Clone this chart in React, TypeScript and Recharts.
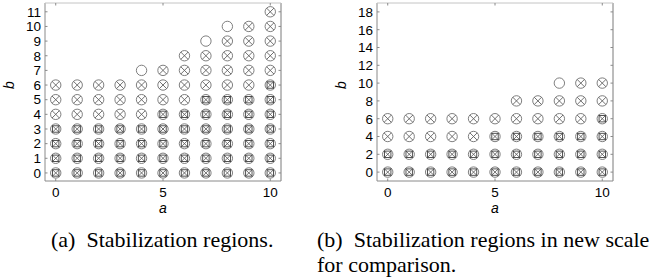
import {
  ReferenceLine,
  Scatter,
  ScatterChart,
  XAxis,
  YAxis,
} from "recharts";

// column a values shared by both panels
const aValues = [0, 1, 2, 3, 4, 5, 6, 7, 8, 9, 10];
const xTicks = [0, 5, 10];

// panel (a): highest b reached by each marker type in every column
const bLevelsA = [0, 1, 2, 3, 4, 5, 6, 7, 8, 9, 10, 11];
const circleTopA = [6, 6, 6, 6, 7, 7, 8, 9, 10, 10, 11];
const crossTopA = [6, 6, 6, 6, 6, 7, 8, 8, 9, 10, 11];
const squareTopA = [3, 3, 3, 3, 3, 4, 4, 5, 5, 5, 6];
const yTicksA = [0, 1, 2, 3, 4, 5, 6, 7, 8, 9, 10, 11];

// panel (b): same thing on the new scale
const bLevelsB = [0, 2, 4, 6, 8, 10];
const circleTopB = [6, 6, 6, 6, 6, 6, 8, 8, 10, 10, 10];
const crossTopB = [6, 6, 6, 6, 6, 6, 8, 8, 8, 10, 10];
const squareTopB = [2, 2, 2, 2, 2, 4, 4, 4, 4, 4, 6];
const yTicksB = [0, 2, 4, 6, 8, 10, 12, 14, 16, 18];

const PLOT_TOP = 3;
const PLOT_BOTTOM = 181;
const PLOT_LEFT = 45;
const PLOT_RIGHT = 281;
const TICK = 2.5;
const BOX = "#8a8a8a";
const SERIF =
  "Liberation Serif, Noto Serif, DejaVu Serif, Times New Roman, Times, serif";

type Pt = { a: number; b: number };

const toPoints = (tops: number[], levels: number[]): Pt[] =>
  aValues.flatMap((a, i) =>
    levels.filter((b) => b <= tops[i]).map((b) => ({ a, b }))
  );

const R = 5.2;

const CircleMark = (p: any) => (
  <circle cx={p.cx} cy={p.cy} r={R} fill="none" stroke="#707070" strokeWidth={0.9} />
);

const CrossMark = (p: any) => {
  const d = R * 0.72;
  return (
    <g stroke="#606060" strokeWidth={0.9}>
      <line x1={p.cx - d} y1={p.cy - d} x2={p.cx + d} y2={p.cy + d} />
      <line x1={p.cx - d} y1={p.cy + d} x2={p.cx + d} y2={p.cy - d} />
    </g>
  );
};

const SquareMark = (p: any) => {
  const s = 3.2;
  return (
    <rect
      x={p.cx - s}
      y={p.cy - s}
      width={2 * s}
      height={2 * s}
      fill="none"
      stroke="#404040"
      strokeWidth={0.9}
    />
  );
};

const XTick = ({ x, payload }: any) => (
  <g>
    <text x={x} y={PLOT_BOTTOM + 16} textAnchor="middle" fontSize={13.5} fill="#000">
      {payload.value}
    </text>
    <line x1={x} x2={x} y1={PLOT_BOTTOM} y2={PLOT_BOTTOM - TICK} stroke={BOX} />
    <line x1={x} x2={x} y1={PLOT_TOP} y2={PLOT_TOP + TICK} stroke={BOX} />
  </g>
);

const YTick = ({ y, payload }: any) => (
  <g>
    <text x={PLOT_LEFT - 4} y={y + 4.8} textAnchor="end" fontSize={13.5} fill="#000">
      {payload.value}
    </text>
    <line x1={PLOT_LEFT} x2={PLOT_LEFT + TICK} y1={y} y2={y} stroke={BOX} />
    <line x1={PLOT_RIGHT} x2={PLOT_RIGHT - TICK} y1={y} y2={y} stroke={BOX} />
  </g>
);

interface PanelProps {
  circles: Pt[];
  crosses: Pt[];
  squares: Pt[];
  yDomain: [number, number];
  yTicks: number[];
}

function Panel({ circles, crosses, squares, yDomain, yTicks }: PanelProps) {
  return (
    <ScatterChart
      width={300}
      height={220}
      margin={{ top: PLOT_TOP, right: 300 - PLOT_RIGHT, left: 0, bottom: 6 }}
    >
      <XAxis
        type="number"
        dataKey="a"
        domain={[-0.5, 10.5]}
        ticks={xTicks}
        interval={0}
        allowDataOverflow
        axisLine={false}
        tickLine={false}
        height={33}
        tick={<XTick />}
        label={{
          value: "a",
          position: "insideBottom",
          offset: 1,
          fontSize: 14,
          fontStyle: "italic",
          fill: "#000",
        }}
      />
      <YAxis
        type="number"
        dataKey="b"
        domain={yDomain}
        ticks={yTicks}
        interval={0}
        allowDataOverflow
        axisLine={false}
        tickLine={false}
        width={PLOT_LEFT}
        tick={<YTick />}
        label={{
          value: "b",
          angle: -90,
          position: "insideLeft",
          offset: 9,
          dy: -3,
          fontSize: 14,
          fontStyle: "italic",
          fill: "#000",
        }}
      />
      <ReferenceLine x={-0.5} stroke={BOX} ifOverflow="visible" />
      <ReferenceLine x={10.5} stroke="#7a7a7a" ifOverflow="visible" />
      <ReferenceLine y={yDomain[0]} stroke={BOX} ifOverflow="visible" />
      <ReferenceLine y={yDomain[1]} stroke="#c4c4c4" ifOverflow="visible" />
      <Scatter data={circles} shape={CircleMark} isAnimationActive={false} />
      <Scatter data={crosses} shape={CrossMark} isAnimationActive={false} />
      <Scatter data={squares} shape={SquareMark} isAnimationActive={false} />
    </ScatterChart>
  );
}

const captionStyle = {
  position: "absolute" as const,
  top: 227,
  fontFamily: SERIF,
  fontSize: 22,
  lineHeight: "25px",
  whiteSpace: "nowrap" as const,
  color: "#000",
};

export default function App() {
  return (
    <div
      style={{
        position: "absolute",
        left: 0,
        top: 0,
        width: 670,
        height: 280,
        background: "#fff",
        fontFamily: "Liberation Sans, Arial, sans-serif",
      }}
    >
      <div style={{ position: "absolute", left: 0, top: 0 }}>
        <Panel
          circles={toPoints(circleTopA, bLevelsA)}
          crosses={toPoints(crossTopA, bLevelsA)}
          squares={toPoints(squareTopA, bLevelsA)}
          yDomain={[-0.55, 11.6]}
          yTicks={yTicksA}
        />
      </div>
      <div style={{ position: "absolute", left: 332, top: 0 }}>
        <Panel
          circles={toPoints(circleTopB, bLevelsB)}
          crosses={toPoints(crossTopB, bLevelsB)}
          squares={toPoints(squareTopB, bLevelsB)}
          yDomain={[-1, 19]}
          yTicks={yTicksB}
        />
      </div>
      <div style={{ ...captionStyle, left: 51 }}>(a)&nbsp; Stabilization regions.</div>
      <div style={{ ...captionStyle, left: 317 }}>
        (b)&nbsp; Stabilization regions in new scale
        <br />
        for comparison.
      </div>
    </div>
  );
}
